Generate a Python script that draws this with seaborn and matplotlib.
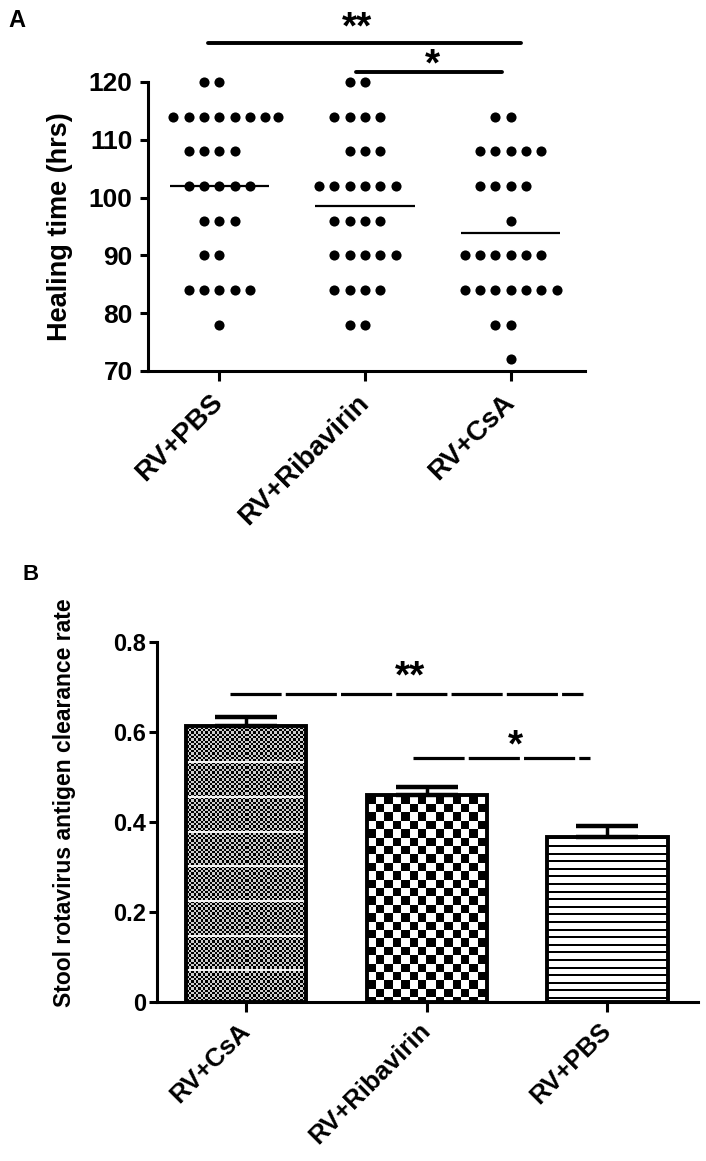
import numpy as np
import pandas as pd
import seaborn as sns
import matplotlib.pyplot as plt

# panel A: healing time per mouse (hrs)
groups_a = ['RV+PBS', 'RV+Ribavirin', 'RV+CsA']
pbs_hours = [120, 120, 114, 114, 114, 114, 114, 114, 114, 114, 108, 108, 108, 108,
             102, 102, 102, 102, 102, 96, 96, 96, 90, 90, 84, 84, 84, 84, 84, 78]
riba_hours = [120, 120, 114, 114, 114, 114, 108, 108, 108, 102, 102, 102, 102, 102, 102,
              96, 96, 96, 96, 90, 90, 90, 90, 90, 84, 84, 84, 84, 78, 78]
csa_hours = [114, 114, 108, 108, 108, 108, 108, 102, 102, 102, 102, 96,
             90, 90, 90, 90, 90, 90, 84, 84, 84, 84, 84, 84, 84, 78, 78, 72]

# panel B: clearance rate, mean and SEM
groups_b = ['RV+CsA', 'RV+Ribavirin', 'RV+PBS']
clearance = [0.613, 0.460, 0.366]
clearance_sem = [0.021, 0.017, 0.026]
lower_err = [0, 0, 0]

sns.set_style('ticks', rc={'axes.edgecolor': 'black', 'xtick.color': 'black',
                           'ytick.color': 'black', 'text.color': 'black',
                           'axes.labelcolor': 'black'})
plt.rcParams['font.family'] = ['Liberation Sans', 'DejaVu Sans']
plt.rcParams['font.weight'] = 'bold'
plt.rcParams['axes.labelweight'] = 'bold'

fig = plt.figure(figsize=(7.06, 11.61), dpi=100)
ax1 = fig.add_axes([0.2096, 0.6805, 0.619, 0.2489])
ax2 = fig.add_axes([0.2224, 0.137, 0.766, 0.310])

# ---- A ----
healing = pd.concat([
    pd.DataFrame({'group': g, 'hours': v})
    for g, v in zip(groups_a, [pbs_hours, riba_hours, csa_hours])
])
# white edge keeps the swarm spacing wider than the visible dot
sns.swarmplot(data=healing, x='group', y='hours', order=groups_a, color='black',
              size=8.9, linewidth=1.6, edgecolor='white', warn_thresh=1, ax=ax1)
for coll in ax1.collections:
    coll.set_clip_on(False)
for i, vals in enumerate([pbs_hours, riba_hours, csa_hours]):
    ax1.hlines(np.mean(vals), i - 0.34, i + 0.34, color='black', lw=1.6, zorder=5)

ax1.set_xlim(-0.49, 2.51)
ax1.set_ylim(70, 120)
ax1.set_yticks([70, 80, 90, 100, 110, 120])
ax1.set_xlabel('')
ax1.set_ylabel('Healing time (hrs)', fontsize=19.5)
ax1.yaxis.set_label_coords(-0.172, 0.5)

ax1.plot([-0.075, 2.07], [126.7, 126.7], color='black', lw=2.8, clip_on=False)
ax1.text(0.945, 127.6, '**', ha='center', va='baseline', fontsize=28)
ax1.plot([0.94, 1.94], [121.7, 121.7], color='black', lw=2.8, clip_on=False)
ax1.text(1.46, 121.2, '*', ha='center', va='baseline', fontsize=28)

# ---- B ----
sns.barplot(x=groups_b, y=clearance, order=groups_b, color='white', edgecolor='black',
            linewidth=2.8, width=0.665, errorbar=None, ax=ax2)
ax2.errorbar(range(3), clearance, yerr=[lower_err, clearance_sem], fmt='none',
             ecolor='black', elinewidth=2.5, capsize=22.5, capthick=3.2, zorder=4)
ax2.set_xlim(-0.493, 2.5)
ax2.set_ylim(0, 0.8)
ax2.set_yticks([0, 0.2, 0.4, 0.6, 0.8])
ax2.set_yticklabels(['0', '0.2', '0.4', '0.6', '0.8'])
ax2.set_ylabel('Stool rotavirus antigen clearance rate', fontsize=16.5)
ax2.yaxis.set_label_coords(-0.150, 0.553)

# bar fill textures (GraphPad-like patterns)
for patch, kind in zip(ax2.patches, ['fine', 'check', 'lines']):
    x0, y0 = patch.get_x(), patch.get_y()
    x1, y1 = x0 + patch.get_width(), y0 + patch.get_height()
    (px0, py0), (px1, py1) = ax2.transData.transform([(x0, y0), (x1, y1)])
    w = max(int(round(px1 - px0)), 1)
    h = max(int(round(py1 - py0)), 1)
    rr, cc = np.mgrid[0:h, 0:w]
    if kind == 'fine':
        tex = (((rr // 2.35).astype(int) + (cc // 2.35).astype(int)) % 2) * 0.8
        tex[(rr % 34.7) < 2] = 0.95
    elif kind == 'check':
        tex = (((rr // 8.4).astype(int) + (cc // 8.4).astype(int)) % 2).astype(float)
    else:
        tex = 1.0 - ((rr % 7.6) < 2).astype(float)
    im = ax2.imshow(tex, cmap='gray', vmin=0, vmax=1, extent=(x0, x1, y0, y1),
                    origin='upper', aspect='auto', interpolation='nearest', zorder=0.5)
    im.set_clip_path(patch)
    patch.set_facecolor('none')
    patch.set_zorder(2)
ax2.set_xlim(-0.493, 2.5)
ax2.set_ylim(0, 0.8)

ax2.plot([-0.089, 1.867], [0.684, 0.684], color='black', lw=2.3, dashes=(16, 1.3),
         clip_on=False)
ax2.text(0.909, 0.698, '**', ha='center', va='baseline', fontsize=28)
ax2.plot([0.925, 1.906], [0.5415, 0.5415], color='black', lw=2.3, dashes=(16, 1.3),
         clip_on=False)
ax2.text(1.49, 0.545, '*', ha='center', va='baseline', fontsize=28)

for ax, ysize, ypad, xsize, xpad in [(ax1, 19, 5, 20, 13), (ax2, 17, 2, 18.5, 11)]:
    sns.despine(ax=ax)
    for s in ['left', 'bottom']:
        ax.spines[s].set_linewidth(2.2)
    ax.tick_params(axis='y', direction='out', width=2.2, length=6, labelsize=ysize, pad=ypad)
    ax.tick_params(axis='x', direction='out', width=2.2, length=7, labelsize=xsize, pad=xpad)
    for lab in ax.get_xticklabels():
        lab.set_rotation(45)
        lab.set_ha('right')
        lab.set_va('center')
        lab.set_rotation_mode('anchor')

fig.text(8 / 706, 1 - 27 / 1161, 'A', fontsize=17, va='baseline')
fig.text(22 / 706, 1 - 580 / 1161, 'B', fontsize=16, va='baseline')

fig.savefig('out.png', dpi=100)
